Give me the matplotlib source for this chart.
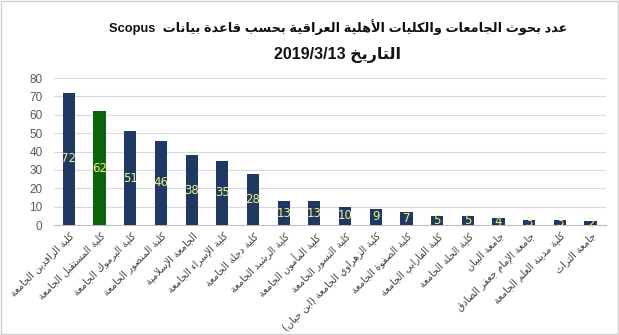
from matplotlib import pyplot as plt
import matplotlib.patches as patches
import numpy
import unicodedata


universities = [
    'كلية الرافدين الجامعة',
    'كلية المستقبل الجامعة',
    'كلية اليرموك الجامعة',
    'كلية المنصور الجامعة',
    'الجامعة الإسلامية',
    'كلية الإسراء الجامعة',
    'كلية دجلة الجامعة',
    'كلية الرشيد الجامعة',
    'كلية المأمون الجامعة',
    'كلية النسور الجامعة',
    'كلية الزهراوي الجامعة (ابن حيان)',
    'كلية الصفوة الجامعة',
    'كلية الفارابي الجامعة',
    'كلية الحلة الجامعة',
    'جامعة البيان',
    'جامعة الإمام جعفر الصادق',
    'كلية مدينة العلم الجامعة',
    'جامعة التراث',
]
papers = [72, 62, 51, 46, 38, 35, 28, 13, 13, 10, 9, 7, 5, 5, 4, 3, 3, 2]
highlight = 'كلية المستقبل الجامعة'

title_ar = 'عدد بحوث الجامعات والكليات الأهلية العراقية بحسب قاعدة بيانات'
title_db = 'Scopus'
date_ar = 'التاريخ'
date_str = '2019/3/13'

NAVY = '#1F3864'
GREEN = '#0B640B'
LAM_ALEF = {'ا': '\ufefb', 'أ': '\ufef7', 'إ': '\ufef9', 'آ': '\ufef5'}


def _form(ch, kind):
    try:
        return unicodedata.lookup(unicodedata.name(ch) + ' ' + kind + ' FORM')
    except (KeyError, ValueError):
        return None


def shape(text):
    # matplotlib has no arabic shaping / bidi, so do a small version here
    toks = []
    i = 0
    while i < len(text):
        if text[i] == 'ل' and i + 1 < len(text) and text[i + 1] in LAM_ALEF:
            toks.append(('LA', text[i + 1]))
            i += 2
        else:
            toks.append(('C', text[i]))
            i += 1

    def joins_prev(t):
        return t[0] == 'LA' or _form(t[1], 'FINAL') is not None

    def joins_next(t):
        return t[0] == 'C' and _form(t[1], 'INITIAL') is not None

    out = []
    for k, t in enumerate(toks):
        p = k > 0 and joins_next(toks[k - 1]) and joins_prev(t)
        n = k + 1 < len(toks) and joins_next(t) and joins_prev(toks[k + 1])
        if t[0] == 'LA':
            iso = LAM_ALEF[t[1]]
            out.append(chr(ord(iso) + 1) if p else iso)
            continue
        ch = t[1]
        if p and n:
            g = _form(ch, 'MEDIAL')
        elif p:
            g = _form(ch, 'FINAL')
        elif n:
            g = _form(ch, 'INITIAL')
        else:
            g = _form(ch, 'ISOLATED')
        out.append(g or ch)
    s = ''.join(reversed(out))
    return s.translate(str.maketrans('()', ')('))


plt.rcParams['font.family'] = ['Liberation Sans', 'DejaVu Sans']

fig = plt.figure(figsize=(6.19, 3.35), dpi=100)
fig.patches.append(patches.Rectangle((0.002, 0.002), 0.996, 0.994, transform=fig.transFigure,
                                     fill=False, edgecolor='#D0D0D0', linewidth=1))
ax = fig.add_axes([0.0866, 0.328, 0.892, 0.439])

x = numpy.arange(len(papers))
colors = [GREEN if u == highlight else NAVY for u in universities]
bars = ax.bar(x, papers, width=0.4, color=colors, zorder=3)
for b, v in zip(bars, papers):
    ax.text(b.get_x() + b.get_width() / 2, v / 2, str(v), ha='center', va='center',
            color='#F2F27A', fontsize=8.5, zorder=4, family=['DejaVu Sans'])

ax.set_xlim(-0.5, len(papers) - 0.5)
ax.set_ylim(0, 80)
ax.set_yticks(range(0, 81, 10))
ax.yaxis.grid(True, color='#D9D9D9', linewidth=0.8, zorder=0)
for s in ['top', 'right', 'left']:
    ax.spines[s].set_visible(False)
ax.spines['bottom'].set_color('#BFBFBF')
ax.tick_params(axis='y', length=0, labelsize=8.5, labelcolor='#595959', pad=8)
ax.tick_params(axis='x', length=0, pad=4)
ax.set_xticks(x)
ax.set_xticklabels([shape(u) for u in universities], rotation=45, ha='right',
                   va='top', rotation_mode='anchor', fontsize=7, color='#404040',
                   family=['DejaVu Sans'])

fig.text(0.546, 0.919, title_db + '  ' + shape(title_ar), ha='center', va='center',
         fontsize=9.3, fontweight='bold', color='#111111')
fig.text(0.546, 0.836, date_str + ' ' + shape(date_ar), ha='center', va='center',
         fontsize=11.5, fontweight='bold', color='#111111')

plt.savefig('out.png', dpi=100)
